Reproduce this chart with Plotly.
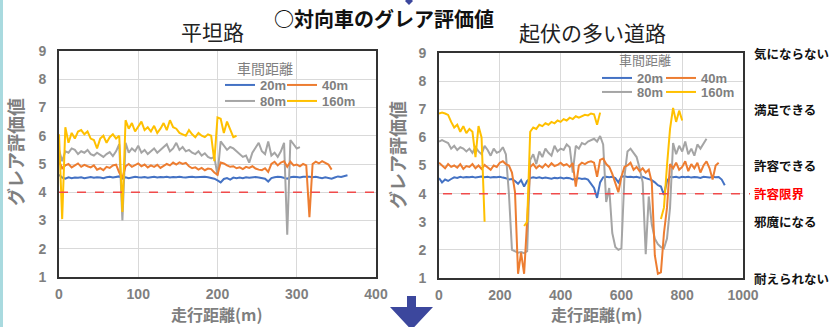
import plotly.graph_objects as go

W, H = 829, 327

# ---------------- data ----------------
series_names = ["20m", "40m", "80m", "160m"]
level_labels = ["気にならない", "満足できる", "許容できる", "許容限界", "邪魔になる", "耐えられない"]
level_values = [9, 7, 5, 4, 3, 1]
tolerance_limit = 4

# 平坦路 : sampled every 4 m
flat_step = 4
flat_20 = [4.62, 4.52, 4.48, 4.53, 4.50, 4.52, 4.51, 4.53, 4.50, 4.52,
           4.54, 4.51, 4.53, 4.52, 4.50, 4.53, 4.55, 4.52, 4.54, 4.56,
           4.48, 4.53, 4.50, 4.52, 4.55, 4.53, 4.52, 4.54, 4.51, 4.53,
           4.55, 4.52, 4.54, 4.53, 4.55, 4.52, 4.54, 4.53, 4.55, 4.53,
           4.52, 4.54, 4.55, 4.53, 4.54, 4.56, 4.55, 4.53, 4.50, 4.48,
           4.42, 4.35, 4.47, 4.50, 4.45, 4.52, 4.50, 4.52, 4.50, 4.53,
           4.51, 4.52, 4.54, 4.52, 4.50, 4.48, 4.38, 4.50, 4.53, 4.55,
           4.54, 4.52, 4.48, 4.53, 4.55, 4.54, 4.52, 4.55, 4.56, 4.55,
           4.53, 4.55, 4.52, 4.50, 4.53, 4.50, 4.48, 4.52, 4.56, 4.54,
           4.58, 4.60]
flat_40 = [5.10, 4.85, 4.95, 5.00, 4.88, 4.95, 5.02, 4.90, 4.97, 4.92,
           4.88, 4.95, 4.80, 4.85, 4.78, 4.90, 4.86, 4.95, 4.98, 4.70,
           4.50, 4.92, 5.00, 4.90, 4.96, 5.02, 4.92, 4.98, 4.88, 4.95,
           4.90, 4.97, 4.86, 4.93, 5.00, 4.95, 5.05, 4.98, 5.06, 5.00,
           5.04, 4.92, 4.85, 4.88, 4.80, 4.86, 4.78, 4.84, 4.82, 4.70,
           4.62, 5.05, 5.02, 4.95, 4.90, 4.92, 4.85, 4.88, 4.82, 4.90,
           4.86, 4.92, 4.84, 4.80, 4.78, 4.85, 4.72, 5.00, 5.08, 4.95,
           5.05, 5.10, 4.90, 5.08, 4.95, 4.98, 4.92, 5.00, 4.95, 3.12,
           5.00, 5.08, 5.02, 5.10, 5.05, 4.98, 4.80]
flat_80 = [5.50, 5.10, 5.45, 5.40, 5.55, 5.50, 5.35, 5.45, 5.40, 5.50,
           5.35, 5.30, 5.40, 5.32, 5.25, 5.35, 5.42, 5.28, 5.45, 5.70,
           3.00, 5.75, 5.40, 5.55, 5.45, 5.65, 5.40, 5.50, 5.35, 5.45,
           5.55, 5.40, 5.50, 5.60, 5.70, 5.45, 5.55, 5.75, 5.50, 5.60,
           5.45, 5.50, 5.40, 5.35, 5.45, 5.30, 5.38, 5.25, 5.20, 5.25,
           4.60, 5.80, 5.65, 5.50, 5.60, 5.55, 5.45, 5.35, 5.25, 5.30,
           5.05, 5.40, 5.60, 5.75, 5.45, 5.35, 5.80, 5.30, 5.40, 5.25,
           5.45, 5.75, 2.50, 5.85, 5.70, 5.55, 5.60]
flat_160 = [6.05, 3.05, 6.30, 5.75, 6.10, 5.90, 6.15, 6.20, 6.05, 6.15,
            5.90, 5.85, 5.55, 5.90, 6.00, 5.75, 5.95, 6.05, 5.90, 6.00,
            3.30, 6.55, 6.25, 6.45, 6.15, 6.35, 6.50, 6.20, 6.30, 6.15,
            6.35, 6.10, 6.25, 6.45, 6.20, 6.55, 6.30, 6.25, 6.10, 6.05,
            6.00, 6.20, 6.05, 5.95, 6.10, 6.00, 5.95, 6.05, 6.00, 5.10,
            6.65, 6.60, 6.10, 6.50, 6.20, 5.95, 6.00]

# 起伏の多い道路 : sampled every 10 m (None = no data)
hill_step = 10
hill_20 = [4.55, 4.40, 4.50, 4.45, 4.52, 4.58, 4.56, 4.60, 4.57, 4.59,
           4.58, 4.60, 4.57, 4.59, 4.61, 4.58, 4.60, 4.57, 4.59, 4.58,
           4.60, 4.57, 4.55, 4.50, 4.52, 4.45, 4.35, 4.48, 4.25, 4.45,
           4.55, 4.58, 4.56, 4.58, 4.55, 4.57, 4.55, 4.53, 4.56, 4.55,
           4.57, 4.54, 4.56, 4.55, 4.50, 4.53, 4.55, 4.52, 4.54, 4.50,
           4.35, 4.20, 3.85, 4.40, 4.58, 4.60, 4.58, 4.60, 4.55, 4.40,
           4.60, 4.62, 4.59, 4.60, 4.58, 4.60, 4.57, 4.60, 4.55, 4.52,
           4.48, 4.40, 4.30, 4.25, 3.95, 4.45, 4.60, 4.58, 4.60, 4.57,
           4.60, 4.58, 4.60, 4.57, 4.59, 4.58, 4.56, 4.60, 4.58, 4.57,
           4.60, 4.58, 4.59, 4.50, 4.30]
hill_40 = [5.10, 5.00, 4.90, 5.05, 4.95, 5.00, 4.92, 5.05, 4.88, 4.98,
           4.95, 5.05, 4.90, 5.00, 4.88, 5.02, 4.95, 4.85, 5.00, 4.95,
           5.10, 5.15, 5.05, 5.00, 4.75, 4.05, 1.15, 1.90, 1.15, 3.10,
           4.95, 5.05, 4.90, 5.00, 4.92, 5.05, 4.95, 5.08, 4.98, 5.02,
           5.10, 5.00, 5.05, 4.95, 5.08, 4.25, 5.00, 5.10, 5.05, 5.12,
           5.15, 5.10, 4.60, 5.20, 5.25, 5.05, 4.95, 4.70, 4.35, 4.05,
           4.60, 4.95, 5.00, 5.10, 4.85, 4.95, 4.80, 4.90, 4.75, 4.85,
           4.40, 1.80, 1.15, 1.20, 2.60, 3.50, 5.05, 4.90, 5.10, 4.85,
           4.95, 5.15, 4.80, 5.05, 4.90, 5.10, 4.75, 5.00, 5.15, 4.90,
           4.50, 5.00, 5.10]
hill_80 = [5.85, 5.90, 5.85, 5.80, 5.60, 5.70, 5.55, 5.65, 5.60, 5.50,
           5.60, 5.45, 5.65, 5.50, 5.40, 5.70, 5.55, 5.35, 5.60, 5.45,
           5.50, 5.65, 5.40, 4.00, 2.00, 1.95, 1.90, 1.92, 1.88, 1.95,
           5.20, 5.40, 5.05, 5.50, 5.30, 5.60, 5.45, 5.35, 5.70, 5.50,
           5.60, 5.55, 5.75, 5.65, 4.75, 5.70, 5.60, 5.80, 5.75, 5.85,
           5.90, 5.95, 5.85, 6.05, 5.75, 3.70, 4.20, 2.60, 2.10, 2.00,
           2.05, 4.60, 5.50, 5.60, 5.45, 5.30, 4.90, 4.40, 1.85, 3.90,
           2.90, 2.40, 2.20, 2.10, 2.05, 2.40, 3.50, 5.80, 5.40, 5.70,
           5.50, 5.85, 5.40, 5.60, 5.35, 5.75, 5.60, 5.80, 5.95]
hill_160 = [6.85, 6.88, 6.85, 6.80, 6.55, 6.35, 6.45, 6.20, 6.40, 6.15,
            6.30, 6.20, 5.30, 6.40, 6.00, 3.00, None, None, None, None,
            None, None, None, None, None, None, None, None, 2.85, 3.00,
            6.20, 6.35, 6.30, 6.45, 6.40, 6.50, 6.45, 6.55, 6.50, 6.60,
            6.55, 6.65, 6.60, 6.70, 6.65, 6.75, 6.70, 6.75, 6.80, 6.78,
            6.85, 6.82, 6.45, 6.88, None, None, None, None, None, None,
            None, None, None, None, None, None, None, None, None, None,
            None, None, None, 3.10, 3.50, 5.00, 6.30, 7.05, 6.55, 6.95,
            6.60]

flat_x_ticks = [0, 100, 200, 300, 400]
hill_x_ticks = [0, 200, 400, 600, 800, 1000]
y_ticks = [1, 2, 3, 4, 5, 6, 7, 8, 9]

# ---------------- styling ----------------
COLORS = {"20m": "#4472C4", "40m": "#ED7D31", "80m": "#A5A5A5", "160m": "#FFC000"}
JP = "Noto Sans CJK JP"
NUM = "Liberation Sans, Noto Sans CJK JP"
GRAY_TXT = "#7F7F7F"


def px(x):
    return x / W


def py(y):
    return 1 - y / H


flat_data = dict(zip(series_names, [flat_20, flat_40, flat_80, flat_160]))
hill_data = dict(zip(series_names, [hill_20, hill_40, hill_80, hill_160]))

draw_order = ["20m", "80m", "40m", "160m"]
# legend slot of each series: (column, row)
slot = {"20m": (0, 0), "40m": (1, 0), "80m": (0, 1), "160m": (1, 1)}
flat_leg_x = [220, 282]
flat_leg_y = [70, 86]
hill_leg_x = [597, 661]
hill_leg_y = [63, 77]

legend_common = dict(orientation="h", xanchor="left", yanchor="top",
                     bgcolor="rgba(0,0,0,0)", itemwidth=30,
                     font=dict(family=NUM, size=13, color=GRAY_TXT, weight="bold"))

fig = go.Figure()
legends = {}
k = 0
for panel, data, step, xa, ya, lx, ly in [
        ("flat", flat_data, flat_step, "x", "y", flat_leg_x, flat_leg_y),
        ("hill", hill_data, hill_step, "x2", "y2", hill_leg_x, hill_leg_y)]:
    for name in draw_order:
        k += 1
        lname = "legend" if k == 1 else f"legend{k}"
        c, r = slot[name]
        legends[lname] = dict(x=px(lx[c]), y=py(ly[r]), **legend_common)
        vals = data[name]
        fig.add_trace(go.Scatter(
            x=[i * step for i in range(len(vals))], y=vals, mode="lines", name=name,
            line=dict(color=COLORS[name], width=2), xaxis=xa, yaxis=ya, legend=lname))

tickfont = dict(family=NUM, size=14, color=GRAY_TXT, weight="bold")
axis_common = dict(showgrid=True, gridcolor="#D9D9D9", gridwidth=1, zeroline=False,
                   showline=True, linecolor="#333333", linewidth=2, mirror=True,
                   ticks="outside", tickcolor="rgba(0,0,0,0)",
                   tickfont=tickfont, fixedrange=True, automargin=False)
xlen = dict(ticklen=3)
ylen = dict(ticklen=8)

fig.update_layout(
    width=W, height=H, autosize=False,
    margin=dict(l=0, r=0, t=0, b=0, autoexpand=False),
    paper_bgcolor="white", plot_bgcolor="white",
    xaxis=dict(domain=[px(59), px(376)], range=[0, 400], tickvals=flat_x_ticks, anchor="y", **xlen, **axis_common),
    yaxis=dict(domain=[py(277), py(51)], range=[1, 9], tickvals=y_ticks, anchor="x", **ylen, **axis_common),
    xaxis2=dict(domain=[px(439), px(743)], range=[0, 1000], tickvals=hill_x_ticks, anchor="y2", **xlen, **axis_common),
    yaxis2=dict(domain=[py(278), py(53)], range=[1, 9], tickvals=y_ticks, anchor="x2", **ylen, **axis_common),
    showlegend=True,
    **legends,
)

# tolerance-limit dashed lines
fig.add_shape(type="line", xref="x", yref="y", x0=0, x1=400, y0=tolerance_limit, y1=tolerance_limit,
              line=dict(color="#F04B4B", width=1.5, dash="dash"))
fig.add_shape(type="line", xref="paper", yref="y2", x0=px(443), x1=px(750),
              y0=tolerance_limit, y1=tolerance_limit,
              line=dict(color="#F04B4B", width=1.5, dash="dash"))

# decorations: teal strip, arrow, diamond
fig.add_shape(type="rect", xref="paper", yref="paper", x0=0, x1=px(3), y0=0, y1=1,
              fillcolor="#A9DADF", line=dict(width=0), layer="below")


def path(points):
    return "M " + " L ".join(f"{px(a):.5f},{py(b):.5f}" for a, b in points) + " Z"


fig.add_shape(type="path", xref="paper", yref="paper",
              path=path([(407, 296), (416, 296), (416, 307), (433, 307), (411.5, 330),
                         (390, 307), (407, 307)]),
              fillcolor="#3C479D", line=dict(width=0))
fig.add_shape(type="path", xref="paper", yref="paper",
              path=path([(409, -3), (413, 1), (409, 5), (405, 1)]),
              fillcolor="#3C479D", line=dict(width=0))

# texts
ann = []
ann.append(dict(text="○対向車のグレア評価値", x=px(384), y=py(18), font=dict(family=JP, size=20, color="#111111", weight="bold")))
ann.append(dict(text="平坦路", x=px(212), y=py(31), font=dict(family=JP, size=21, color="#222222")))
ann.append(dict(text="起伏の多い道路", x=px(592), y=py(32), font=dict(family=JP, size=21, color="#222222")))
ann.append(dict(text="グレア評価値", x=px(15), y=py(152), textangle=-90, font=dict(family=JP, size=18, color=GRAY_TXT, weight="bold")))
ann.append(dict(text="グレア評価値", x=px(397), y=py(155), textangle=-90, font=dict(family=JP, size=18, color=GRAY_TXT, weight="bold")))
ann.append(dict(text="車間距離", x=px(265), y=py(68), font=dict(family=JP, size=14, color=GRAY_TXT)))
ann.append(dict(text="車間距離", x=px(645), y=py(59.5), font=dict(family=JP, size=13, color=GRAY_TXT)))
for a in ann:
    a.update(xref="paper", yref="paper", showarrow=False, xanchor="center", yanchor="middle")
    fig.add_annotation(**a)

# x-axis titles, anchored to the bottom edge
for cx in [217, 597]:
    fig.add_annotation(text="走行距離(m)", xref="paper", yref="paper", x=px(cx), y=0,
                       showarrow=False, xanchor="center", yanchor="bottom", borderpad=0,
                       font=dict(family=JP, size=16, color=GRAY_TXT, weight="bold"))

for lab, val in zip(level_labels, level_values):
    fig.add_annotation(text=lab, xref="paper", yref="y2", x=px(752), y=val, showarrow=False,
                       xanchor="left", yanchor="middle",
                       font=dict(family=JP, size=12.5, weight="bold",
                                 color="#FF0000" if val == tolerance_limit else "#111111"))

fig.write_html("out.html", config={"displayModeBar": False},
               post_script="document.body.style.margin='0';document.body.style.overflow='hidden';")
